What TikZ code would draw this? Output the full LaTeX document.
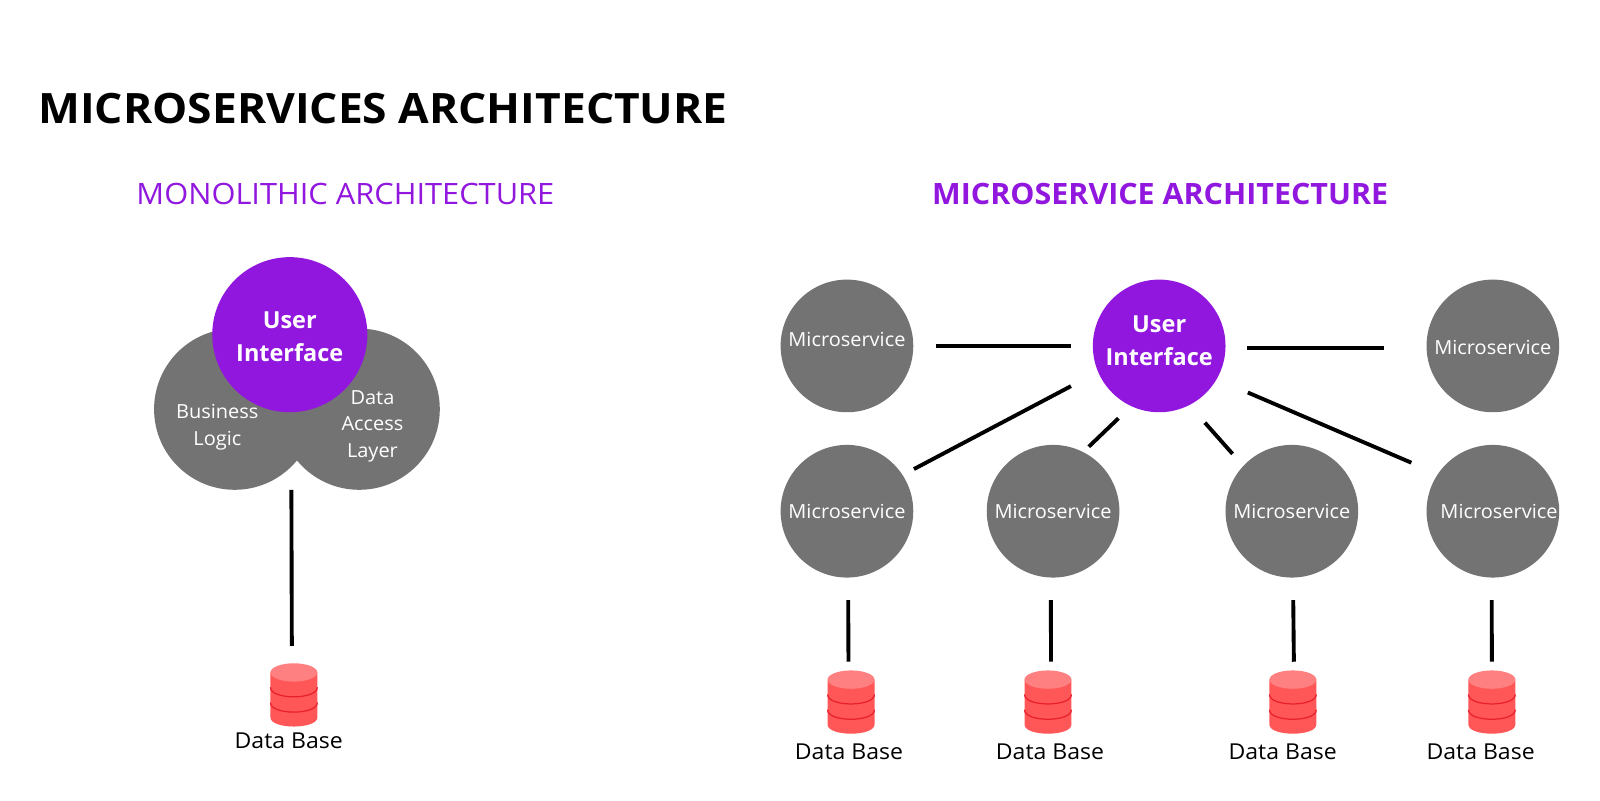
\documentclass[tikz,border=0pt]{standalone}
\usepackage{fontspec}
\setmainfont{Open Sans}
\newfontfamily\stA[FakeStretch=1.06]{Open Sans}
\newfontfamily\stB[FakeStretch=1.048]{Open Sans}
\newfontfamily\stC[FakeStretch=1.035]{Open Sans}
\newfontfamily\stD[FakeStretch=1.03]{Open Sans}
\newfontfamily\stE[FakeStretch=1.05]{Open Sans}
\definecolor{purp}{HTML}{9117DF}
\definecolor{gry}{HTML}{737373}
\definecolor{dbred}{HTML}{FF5757}
\definecolor{dbtop}{HTML}{FF8080}
\definecolor{dbline}{HTML}{E8202A}
\tikzset{
  blob/.style={circle,fill=gry,inner sep=0pt,minimum size=130pt},
  uicircle/.style={circle,fill=purp,inner sep=0pt,minimum size=130pt},
  conn/.style={draw=black,line width=3.8pt},
  svc/.style={text=white,font=\stD\fontsize{19}{26}\selectfont,align=center,inner sep=0pt},
  uitext/.style={text=white,font=\fontsize{23}{32}\selectfont\bfseries,align=center,inner sep=0pt},
  dblabel/.style={text=black,font=\stE\fontsize{21.5}{26}\selectfont,inner sep=0pt},
  dbstack/.pic={
    \fill[dbred] (-23,9) -- (-23,53) .. controls (-23,65) and (23,65) .. (23,53) -- (23,9) -- cycle;
    \draw[dbline,line width=1.2pt] (-23,23.5) .. controls (-23,36) and (23,36) .. (23,23.5);
    \draw[dbline,line width=1.2pt] (-23,38.5) .. controls (-23,51) and (23,51) .. (23,38.5);
    \fill[dbtop] (0,9) ellipse [x radius=23pt,y radius=9pt];
  }
}
\begin{document}
\begin{tikzpicture}[x=1pt,y=-1pt]
\useasboundingbox (0,0) rectangle (1568,784);
\fill[white] (0,0) rectangle (1568,784);
% headings
\node[anchor=base west,inner sep=0pt,font=\stA\fontsize{41}{48}\selectfont\bfseries] (title) at (37.5,121) {MICROSERVICES ARCHITECTURE};
\node[anchor=center,inner sep=0pt,text=purp,font=\stB\fontsize{28.8}{32}\selectfont] (hmono) at (338.5,190.5) {MONOLITHIC ARCHITECTURE};
\node[anchor=center,inner sep=0pt,text=purp,font=\stC\fontsize{28.8}{32}\selectfont\bfseries] (hmicro) at (1137,190.5) {MICROSERVICE ARCHITECTURE};
% monolith
\node[blob,minimum size=158pt] (biz) at (230,401) {};
\node[blob,minimum size=158pt] (dal) at (352,401) {};
\node[uicircle,minimum size=152pt] (lui) at (284,328) {};
\node[uitext] (luit) at (284,330) {User\\Interface};
\node[svc] (bizt) at (213,418.5) {Business\\Logic};
\node[svc] (dalt) at (365,417.5) {Data\\Access\\Layer};
\pic at (288,650) {dbstack};
\coordinate (ldb) at (286,633);
\draw[conn,shorten <=76pt] (lui.271.5) -- (ldb);
\node[dblabel] (ldbl) at (283,725.5) {Data Base};
% microservices
\node[uicircle] (rui) at (1136,339) {};
\node[uitext] (ruit) at (1136,334) {User\\Interface};
\node[blob] (m0) at (830,339) {};
\node[blob] (m5) at (1463,339) {};
\node[blob] (m1) at (830,501) {};
\node[blob] (m2) at (1032,501) {};
\node[blob] (m3) at (1266,501) {};
\node[blob] (m4) at (1463,501) {};
\node[svc] (m0t) at (830,332.5) {Microservice};
\node[svc] (m5t) at (1463,340.5) {Microservice};
\node[svc] (m1t) at (830,501.5) {Microservice};
\node[svc] (m2t) at (1032,501.5) {Microservice};
\node[svc] (m3t) at (1266,501.5) {Microservice};
\node[svc] (m4t) at (1469,501.5) {Microservice};
% connectors
\draw[conn,shorten <=22pt,shorten >=21pt] (m0.east) -- (rui.west);
\draw[conn,shorten <=21pt,shorten >=42pt] (rui.358) -- (m5.182);
\draw[conn,shorten <=29.9pt,shorten >=12.4pt] (rui.203.9) -- (m1.33.9);
\draw[conn,shorten <=17.1pt,shorten >=7.5pt] (rui.245.9) -- (m2.63);
\draw[conn,shorten <=22.9pt,shorten >=15.7pt] (rui.297.5) -- (m3.137.2);
\draw[conn,shorten <=33.1pt,shorten >=28.1pt] (rui.330.8) -- (m4.146.7);
% databases
\pic at (834,657) {dbstack};
\pic at (1027,657) {dbstack};
\pic at (1267,657) {dbstack};
\pic at (1462,657) {dbstack};
\coordinate (v1) at (831.5,648.5);
\coordinate (v2) at (1030,648.5);
\coordinate (v3) at (1268,648.5);
\coordinate (v4) at (1462,648.5);
\draw[conn,shorten <=22pt] (m1.271.3) -- (v1);
\draw[conn,shorten <=22pt] (m2.268.2) -- (v2);
\draw[conn,shorten <=22pt] (m3.271.8) -- (v3);
\draw[conn,shorten <=22pt] (m4.269.1) -- (v4);
\node[dblabel] (d1l) at (832,736.5) {Data Base};
\node[dblabel] (d2l) at (1029,736.5) {Data Base};
\node[dblabel] (d3l) at (1257,736.5) {Data Base};
\node[dblabel] (d4l) at (1451,736.5) {Data Base};
\end{tikzpicture}
\end{document}
